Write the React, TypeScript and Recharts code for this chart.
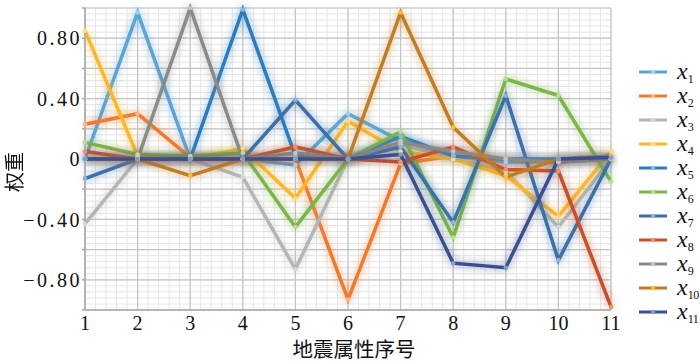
import { LineChart, Line, XAxis, YAxis, CartesianGrid } from "recharts";

const attrIndex = [1, 2, 3, 4, 5, 6, 7, 8, 9, 10, 11];

const x1 = [0.0, 0.97, 0.0, 0.0, -0.04, 0.3, 0.12, 0.02, -0.02, -0.02, 0.0];
const x2 = [0.23, 0.3, 0.01, 0.0, 0.0, -0.93, -0.03, 0.02, 0.0, -0.02, 0.0];
const x3 = [-0.43, 0.0, 0.0, -0.12, -0.73, 0.0, 0.1, 0.0, -0.08, -0.45, 0.0];
const x4 = [0.85, 0.02, 0.0, 0.07, -0.26, 0.25, 0.05, 0.0, -0.11, -0.38, 0.05];
const x5 = [0.0, 0.0, 0.0, 0.99, 0.02, 0.0, 0.15, 0.02, 0.0, 0.0, 0.0];
const x6 = [0.11, 0.03, 0.02, 0.04, -0.45, 0.0, 0.18, -0.52, 0.53, 0.42, -0.15];
const x7 = [-0.13, 0.0, 0.0, 0.0, 0.39, 0.0, 0.08, -0.42, 0.42, -0.67, 0.0];
const x8 = [0.05, 0.0, 0.0, 0.0, 0.08, 0.0, -0.02, 0.08, -0.07, -0.08, -0.98];
const x9 = [0.0, 0.0, 1.0, 0.0, 0.04, 0.0, 0.11, 0.05, 0.0, -0.02, 0.0];
const x10 = [0.0, 0.0, -0.11, 0.0, 0.0, 0.0, 0.97, 0.21, -0.12, 0.0, 0.02];
const x11 = [0.0, 0.0, 0.0, 0.0, 0.0, 0.0, 0.03, -0.69, -0.72, 0.0, 0.01];

const yTicks = [-1, -0.8, -0.6, -0.4, -0.2, 0, 0.2, 0.4, 0.6, 0.8, 1];
const yLabelled = [-0.8, -0.4, 0, 0.4, 0.8];

// minor grid (every 0.2 on x, every 0.04 on y)
const minorX: number[] = [];
for (let i = 0; i <= 50; i++) minorX.push(1 + i * 0.2);
const minorY: number[] = [];
for (let i = 0; i <= 50; i++) minorY.push(-1 + i * 0.04);

const series = [
  { key: "x1", sub: "1", values: x1, color: "#5ba3d6", dot: "#a9cdec" },
  { key: "x2", sub: "2", values: x2, color: "#ef7a2e", dot: "#f6b88c" },
  { key: "x3", sub: "3", values: x3, color: "#b5b5b5", dot: "#d8d8d8" },
  { key: "x4", sub: "4", values: x4, color: "#fdb62a", dot: "#fdd98a" },
  { key: "x5", sub: "5", values: x5, color: "#2a7bc0", dot: "#8bb8e0" },
  { key: "x6", sub: "6", values: x6, color: "#7bb548", dot: "#bcdb9e" },
  { key: "x7", sub: "7", values: x7, color: "#3a6fa8", dot: "#8fb0d8" },
  { key: "x8", sub: "8", values: x8, color: "#c4502a", dot: "#e8926c" },
  { key: "x9", sub: "9", values: x9, color: "#8a8a8a", dot: "#c4c4c4" },
  { key: "x10", sub: "10", values: x10, color: "#c27d24", dot: "#f2c030" },
  { key: "x11", sub: "11", values: x11, color: "#3b4f8f", dot: "#7f9ad2" },
];

const data = attrIndex.map((n, i) => {
  const row: Record<string, number> = { n };
  series.forEach((s) => {
    row[s.key] = s.values[i];
  });
  return row;
});

const fmtY = (v: number) => {
  if (!yLabelled.some((t) => Math.abs(t - v) < 1e-6)) return "";
  if (Math.abs(v) < 1e-6) return "0";
  return (v < 0 ? "\u2212" : "") + Math.abs(v).toFixed(2);
};

const serif = "'Liberation Serif', 'DejaVu Serif', serif";

export default function App() {
  return (
    <div style={{ position: "absolute", left: 0, top: 0, width: 700, height: 362, background: "#fff", overflow: "hidden" }}>
      <style>{`.recharts-line path { filter: url(#glow); }`}</style>
      <LineChart width={700} height={362} data={data} margin={{ top: 8, right: 89, left: 0, bottom: 0 }}>
        <defs>
          <filter id="glow" filterUnits="userSpaceOnUse" x="0" y="0" width="700" height="362">
            <feGaussianBlur in="SourceGraphic" stdDeviation="4" result="blur" />
            <feComponentTransfer in="blur" result="soft">
              <feFuncA type="linear" slope="0.7" />
            </feComponentTransfer>
            <feMerge>
              <feMergeNode in="soft" />
              <feMergeNode in="SourceGraphic" />
            </feMerge>
          </filter>
        </defs>
        <CartesianGrid
          stroke="#e6e6e6"
          strokeWidth={1}
          horizontalValues={minorY}
          verticalValues={minorX}
        />
        <CartesianGrid stroke="#c4c4c4" strokeWidth={1.2} />
        <XAxis
          dataKey="n"
          type="number"
          domain={[1, 11]}
          ticks={attrIndex}
          interval={0}
          height={52}
          tickSize={0}
          tickMargin={6}
          stroke="#a8a8a8"
          strokeWidth={1.5}
          tick={{ fill: "#111", fontSize: 20, fontFamily: serif }}
        />
        <YAxis
          type="number"
          domain={[-1, 1]}
          ticks={yTicks}
          interval={0}
          width={85}
          tickSize={3}
          tickMargin={0}
          tickFormatter={fmtY}
          stroke="#a8a8a8"
          strokeWidth={1.5}
          tick={{ fill: "#111", fontSize: 20, fontFamily: serif, letterSpacing: 2.5 }}
        />
        {series.map((s) => (
          <Line
            key={s.key}
            type="linear"
            dataKey={s.key}
            stroke={s.color}
            strokeWidth={3.5}
            dot={{ r: 2.3, fill: s.dot, stroke: "none" }}
            activeDot={false}
            isAnimationActive={false}
          />
        ))}
      </LineChart>

      <div
        style={{
          position: "absolute",
          left: 4,
          top: 152,
          width: 20,
          height: 40,
          writingMode: "vertical-rl",
          textOrientation: "sideways",
          transform: "rotate(180deg)",
          fontFamily: "'Noto Sans CJK SC', sans-serif",
          fontSize: 20,
          color: "#111",
          whiteSpace: "nowrap",
          lineHeight: 1,
          textAlign: "center",
        }}
      >
        权重
      </div>
      <div
        style={{
          position: "absolute",
          left: 254,
          top: 338,
          width: 200,
          textAlign: "center",
          fontFamily: "'Noto Sans CJK SC', sans-serif",
          fontSize: 20.5,
          color: "#111",
          whiteSpace: "nowrap",
          lineHeight: 1,
        }}
      >
        地震属性序号
      </div>

      <div style={{ position: "absolute", left: 637, top: 60 }}>
        {series.map((s, i) => (
          <div
            key={s.key}
            style={{ position: "absolute", left: 0, top: i * 24, height: 24, width: 63, display: "flex", alignItems: "center" }}
          >
            <svg width={32} height={24} style={{ flex: "none" }}>
              <line x1={2} y1={12} x2={30} y2={12} stroke={s.color} strokeWidth={3} />
              <circle cx={16} cy={12} r={2.3} fill={s.dot} />
            </svg>
            <span style={{ fontFamily: serif, fontStyle: "italic", fontSize: 24, lineHeight: 1, color: "#111", marginLeft: 8, whiteSpace: "nowrap" }}>
              x
              <sub style={{ fontStyle: "normal", fontSize: 12, verticalAlign: "-4px", letterSpacing: -0.5 }}>{s.sub}</sub>
            </span>
          </div>
        ))}
      </div>
    </div>
  );
}
